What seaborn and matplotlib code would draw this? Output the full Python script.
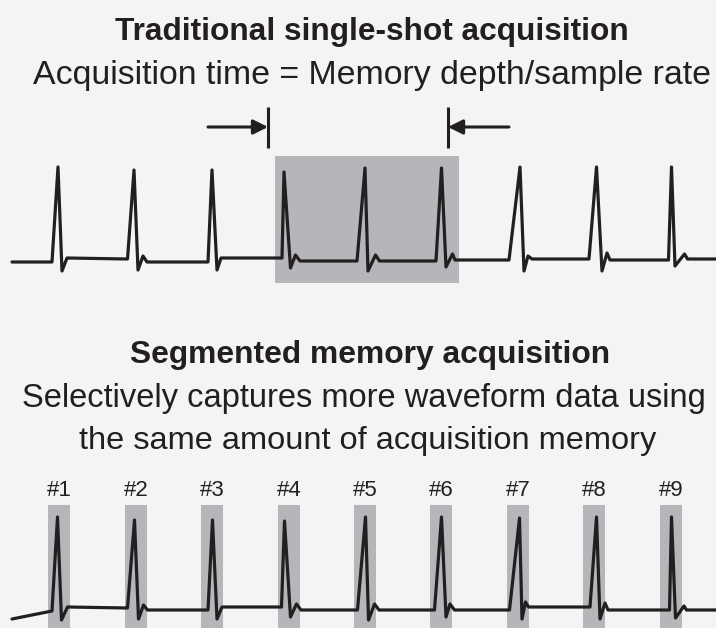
import matplotlib
matplotlib.use("Agg")
import matplotlib.pyplot as plt
from matplotlib.patches import Rectangle
import seaborn as sns

# ---- data (pixel-space vertices) ----
top_x = [12, 52, 58, 62, 67, 127.5, 134, 138, 143, 147, 208, 212, 217, 221,
         282, 284, 290.5, 295.5, 300, 357, 365, 368, 375.5, 379.5, 436, 441.5,
         446, 452.5, 455, 509, 520, 524, 528, 532, 589, 596.5, 602, 607, 610,
         668.5, 671.5, 675, 684.5, 687.5, 716]
top_y = [262, 262, 167, 271, 258, 259, 170, 270, 256, 262, 262, 170, 270, 258,
         258, 172, 268, 255, 261, 261, 168, 271, 255, 261, 261, 168, 267, 254,
         260, 260, 167, 271, 256, 259, 259, 167, 271, 253, 260, 260, 167, 266,
         254, 259, 259]

bot_x = [12, 52, 57.5, 61.5, 67.5, 127.5, 134.5, 138.5, 143.5, 147.5, 208,
         212.5, 217, 222, 281.5, 284.5, 290.5, 296.5, 301, 357.5, 365.5, 368.5,
         374.5, 379, 434.5, 441.5, 446, 450, 454.5, 509.5, 519.5, 522, 525.5,
         528.5, 590, 596.5, 600, 605, 608, 669.5, 671.5, 675.5, 684, 686.5, 716]
bot_y = [619, 611, 517, 620, 607, 608, 520, 619, 605, 610, 610, 520, 619, 607,
         607, 521, 617, 604, 610, 610, 517, 620, 604, 610, 610, 517, 617, 604,
         610, 610, 518, 619, 602, 607, 607, 517, 619, 603, 610, 610, 517, 618,
         606, 610, 610]

window_x = [275, 459]          # single-shot acquisition window
window_y = [156, 283]
seg_left = [48, 125, 201, 278, 354, 430, 507, 583, 660]
seg_labels = ["#1", "#2", "#3", "#4", "#5", "#6", "#7", "#8", "#9"]
seg_width = 22
seg_y = [505, 628]

marker_x = [268, 448]
marker_y = [107, 148]
arrow_y = 127
arrow_tail = [208, 509]

title1 = "Traditional single-shot acquisition"
sub1 = "Acquisition time = Memory depth/sample rate"
title2 = "Segmented memory acquisition"
sub2a = "Selectively captures more waveform data using"
sub2b = "the same amount of acquisition memory"

# ---- style ----
sns.set_theme(style="white")
plt.rcParams["font.family"] = ["Liberation Sans", "DejaVu Sans"]
BG = "#f4f4f4"
INK = "#231f20"
GRAY = "#b6b5ba"
LW = 2.3

fig = plt.figure(figsize=(7.16, 6.28), dpi=100, facecolor=BG)
ax = fig.add_axes([0, 0, 1, 1])
ax.set_facecolor(BG)
ax.set_xlim(0, 716)
ax.set_ylim(628, 0)
ax.axis("off")

# shaded regions
ax.add_patch(Rectangle((window_x[0], window_y[0]), window_x[1] - window_x[0],
                       window_y[1] - window_y[0], color=GRAY, lw=0, zorder=1))
for xl in seg_left:
    ax.add_patch(Rectangle((xl, seg_y[0]), seg_width, seg_y[1] - seg_y[0],
                           color=GRAY, lw=0, zorder=1))

# waveforms
sns.lineplot(x=top_x, y=top_y, sort=False, estimator=None, ax=ax,
             color=INK, lw=LW, zorder=3)
sns.lineplot(x=bot_x, y=bot_y, sort=False, estimator=None, ax=ax,
             color=INK, lw=LW, zorder=3)

# markers and arrows
for mx, tail in zip(marker_x, arrow_tail):
    ax.plot([mx, mx], marker_y, color=INK, lw=2.2, zorder=3,
            solid_capstyle="butt")
    ax.annotate("", xy=(mx, arrow_y), xytext=(tail, arrow_y),
                arrowprops=dict(arrowstyle="-|>", color=INK, lw=2.2,
                                mutation_scale=22, shrinkA=0, shrinkB=0),
                zorder=3)

# texts
ax.text(372, 40, title1, ha="center", va="baseline", fontsize=22.8,
        fontweight="bold", color=INK)
ax.text(372, 84, sub1, ha="center", va="baseline", fontsize=24.4, color=INK)
ax.text(370, 363, title2, ha="center", va="baseline", fontsize=22.9,
        fontweight="bold", color=INK)
ax.text(364, 407, sub2a, ha="center", va="baseline", fontsize=23.5, color=INK)
ax.text(368, 449, sub2b, ha="center", va="baseline", fontsize=23.4, color=INK)
for xl, lab in zip(seg_left, seg_labels):
    ax.text(xl + seg_width / 2, 496, lab, ha="center", va="baseline",
            fontsize=16, color=INK)

fig.savefig("out.png", dpi=100, facecolor=BG)
